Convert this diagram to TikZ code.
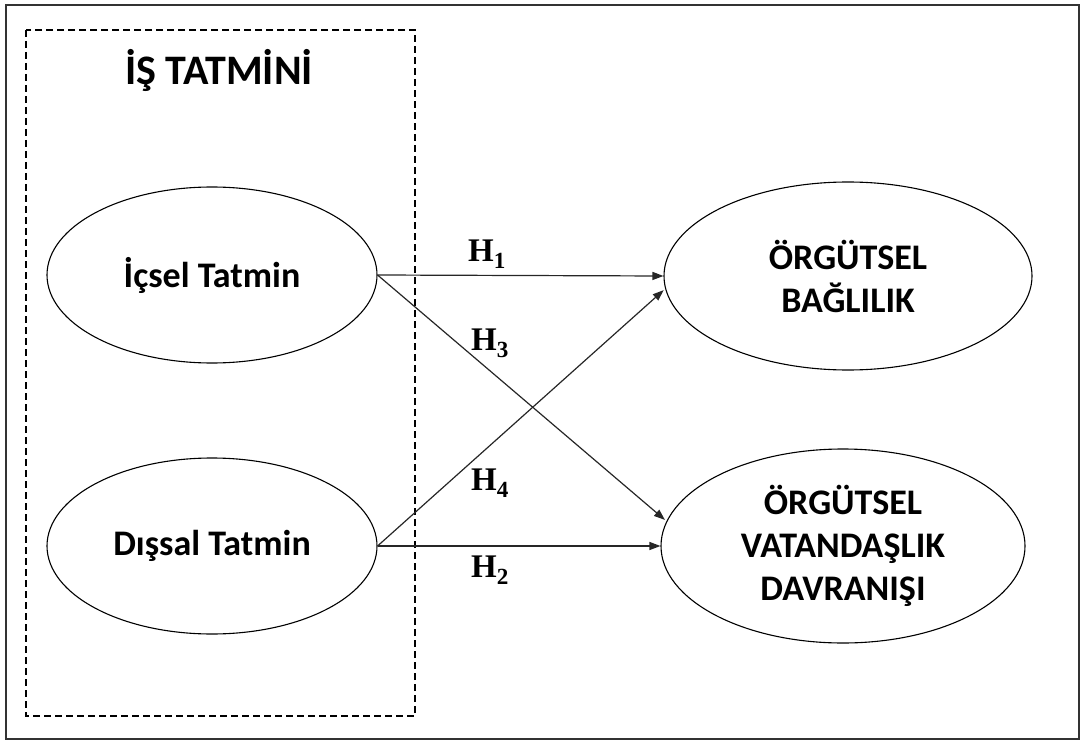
\documentclass[tikz,border=0pt]{standalone}
\usepackage{fontspec}
\setmainfont{Carlito}
\newfontfamily\hfont{Liberation Serif}
\usetikzlibrary{arrows.meta,positioning,shapes.geometric}

\begin{document}
\begin{tikzpicture}[x=1pt, y=-1pt,
  oval/.style={ellipse, draw, line width=1.1pt, inner sep=0pt, align=center,
               font=\fontsize{36}{43}\selectfont\bfseries},
  hyp/.style={-{Triangle[length=11pt, width=8pt]}, line width=1.2pt, draw=black!85},
  etiket/.style={font=\fontsize{33}{38}\selectfont\hfont\bfseries}]
\useasboundingbox (0,0) rectangle (1083,743);
\draw[line width=1.6pt, black!80] (6,5) rectangle (1079,739);
\draw[line width=2.3pt, dash pattern=on 7pt off 4pt] (26,30) rectangle (415,716);
\node[anchor=base, font=\fontsize{42}{50}\selectfont\bfseries] (baslik) at (219,85) {İŞ TATMİNİ};
\node[oval, minimum width=330pt, minimum height=176pt] (icsel) at (212,275) {İçsel Tatmin};
\node[oval, minimum width=330pt, minimum height=176pt] (dissal) at (212,546) {Dışsal Tatmin};
\node[oval, minimum width=368pt, minimum height=188pt] (ob) at (848,276) {ÖRGÜTSEL\\BAĞLILIK};
\node[oval, minimum width=364pt, minimum height=194pt] (ovd) at (843,546) {ÖRGÜTSEL\\VATANDAŞLIK\\DAVRANIŞI};
\draw[hyp] (icsel.east) -- (ob.west);
\draw[hyp, shorten >=2pt] (icsel.east) -- (ovd.172);
\draw[hyp, shorten >=2pt] (dissal.east) -- (ob.184);
\draw[hyp] (dissal.east) -- (ovd.west);
\node[etiket] (h1) at (487,254) {H\textsubscript{1}};
\node[etiket] (h3) at (490,343) {H\textsubscript{3}};
\node[etiket] (h4) at (490,483) {H\textsubscript{4}};
\node[etiket] (h2) at (490,570) {H\textsubscript{2}};
\end{tikzpicture}
\end{document}
